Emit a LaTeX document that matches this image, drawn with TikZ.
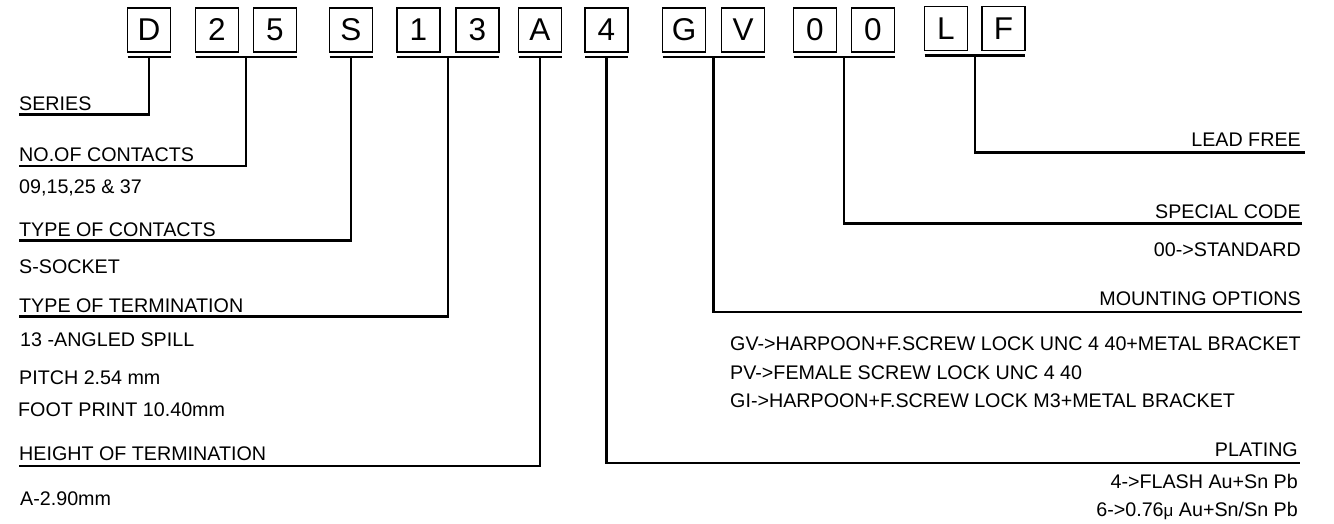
\documentclass[tikz,border=0pt]{standalone}
\usepackage{fontspec}
\setmainfont{Liberation Sans}
\usetikzlibrary{positioning}

\tikzset{
  cell/.style={draw, line width=1.5pt, outer sep=0pt, minimum width=43pt, minimum height=44pt, inner sep=0pt, font=\fontsize{31.5}{32}\selectfont},
  lbl/.style={inner sep=0pt, font=\fontsize{19.7}{22}\selectfont},
  lead/.style={line width=2.1pt},
}

\begin{document}
\begin{tikzpicture}[x=1pt, y=-1pt]
	\useasboundingbox (0,0) rectangle (1334,524);
	% code boxes
	\node[cell] (D) at (149,30) {D};
	\node[cell] (n2) [right=25pt of D] {2};
	\node[cell] (n5) [right=15pt of n2] {5};
	\node[cell] (S) [right=33pt of n5] {S};
	\node[cell] (n1) [right=24.5pt of S] {1};
	\node[cell] (n3) [right=16pt of n1] {3};
	\node[cell] (A) [right=19.5pt of n3] {A};
	\node[cell] (n4) [right=23.5pt of A] {4};
	\node[cell] (G) [right=34.5pt of n4] {G};
	\node[cell] (V) [right=16pt of G] {V};
	\node[cell] (z1) [right=29pt of V] {0};
	\node[cell] (z2) [right=15pt of z1] {0};
	\node[cell] (L) [right=30pt of z2, yshift=1.5pt] {L};
	\node[cell] (F) [right=14.5pt of L] {F};
	
	% underlines
	\draw[lead] ([yshift=-5pt]D.south west) -- coordinate[midway] (uD) ([yshift=-5pt]D.south east);
	\draw[lead] ([yshift=-5pt]n2.south west) -- coordinate[midway] (u25) ([yshift=-5pt]n5.south east);
	\draw[lead] ([yshift=-5pt]S.south west) -- coordinate[midway] (uS) ([yshift=-5pt]S.south east);
	\draw[lead] ([yshift=-5pt]n1.south west) -- coordinate[midway] (u13) ([yshift=-5pt]n3.south east);
	\draw[lead] ([yshift=-5pt]A.south west) -- coordinate[midway] (uA) ([yshift=-5pt]A.south east);
	\draw[lead] ([yshift=-5pt]n4.south west) -- coordinate[midway] (u4) ([yshift=-5pt]n4.south east);
	\draw[lead] ([yshift=-5pt]G.south west) -- coordinate[midway] (uGV) ([yshift=-5pt]V.south east);
	\draw[lead] ([yshift=-5pt]z1.south west) -- coordinate[midway] (u00) ([yshift=-5pt]z2.south east);
	\draw[lead] ([yshift=-5pt]L.south west) -- coordinate[midway] (uLF) ([yshift=-5pt]F.south east);
	
	% left labels
	\node[lbl, anchor=base west] (series) at (19,110.5) {SERIES};
	\node[lbl, anchor=base west] (contacts) at (19,161) {NO.OF CONTACTS};
	\node[lbl, anchor=base west] (contactsval) at (19,193.5) {09,15,25 \& 37};
	\node[lbl, anchor=base west] (ctype) at (19,236) {TYPE OF CONTACTS};
	\node[lbl, anchor=base west] (ctypeval) at (19,273.5) {S-SOCKET};
	\node[lbl, anchor=base west] (term) at (19,312) {TYPE OF TERMINATION};
	\node[lbl, anchor=base west] (termval) at (20,346.5) {13 -ANGLED SPILL};
	\node[lbl, anchor=base west] (pitch) at (19,384) {PITCH 2.54 mm};
	\node[lbl, anchor=base west] (foot) at (18,416) {FOOT PRINT 10.40mm};
	\node[lbl, anchor=base west] (height) at (19,460) {HEIGHT OF TERMINATION};
	\node[lbl, anchor=base west] (heightval) at (20,505) {A-2.90mm};
	
	% right labels
	\node[lbl, anchor=base east] (leadfree) at (1301,147) {LEAD FREE};
	\node[lbl, anchor=base east] (special) at (1301,218.5) {SPECIAL CODE};
	\node[lbl, anchor=base east] (specialval) at (1301,256) {00->STANDARD};
	\node[lbl, anchor=base east] (mount) at (1301,305.5) {MOUNTING OPTIONS};
	\node[lbl, anchor=base west] (gv) at (730,350) {GV->HARPOON+F.SCREW LOCK UNC 4 40+METAL BRACKET};
	\node[lbl, anchor=base west] (pv) at (730,379.5) {PV->FEMALE SCREW LOCK UNC 4 40};
	\node[lbl, anchor=base west] (gi) at (730,407) {GI->HARPOON+F.SCREW LOCK M3+METAL BRACKET};
	\node[lbl, anchor=base east] (plating) at (1298,456.5) {PLATING};
	\node[lbl, anchor=base east] (flash) at (1298,488.5) {4->FLASH Au+Sn Pb};
	\node[lbl, anchor=base east] (micro) at (1298,516) {6->0.76{\fontsize{17}{17}\selectfont μ} Au+Sn/Sn Pb};
	
	% leaders
	\draw[lead] (uD) |- ([yshift=-4pt]series.base west);
	\draw[lead] (u25) |- ([yshift=-5pt]contacts.base west);
	\draw[lead] (uS) |- ([yshift=-4.5pt]ctype.base west);
	\draw[lead] (u13) |- ([yshift=-4.5pt]term.base west);
	\draw[lead] (uA) |- ([yshift=-6pt]height.base west);
	\draw[lead] (u4) |- ([xshift=2pt, yshift=-6.5pt]plating.base east);
	\draw[lead] (uGV) |- ([xshift=1pt, yshift=-6.5pt]mount.base east);
	\draw[lead] (u00) |- ([xshift=1pt, yshift=-5pt]special.base east);
	\draw[lead] (uLF) |- ([xshift=4pt, yshift=-5.5pt]leadfree.base east);
\end{tikzpicture}
\end{document}
